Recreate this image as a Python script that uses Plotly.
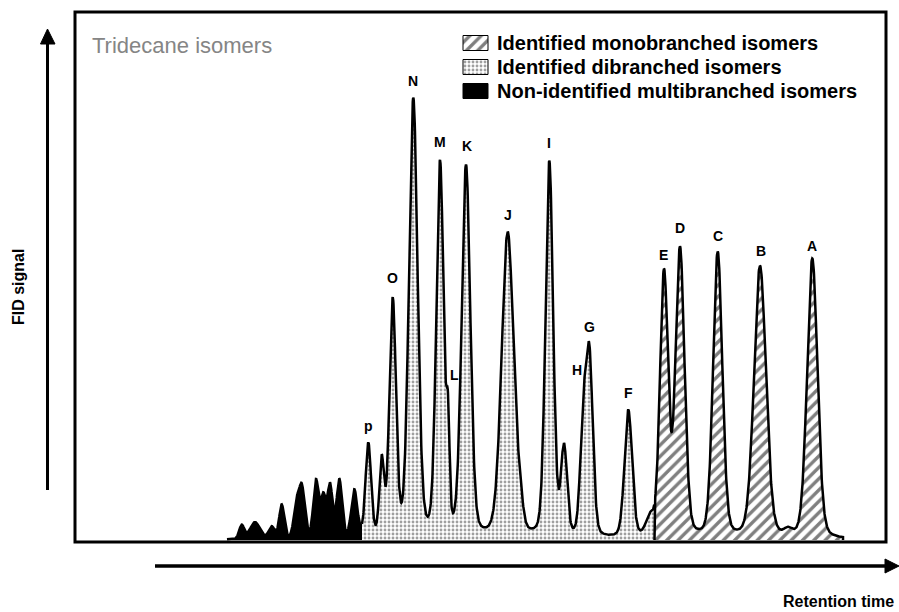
import numpy as np
import plotly.graph_objects as go

# ---- peak table: retention position (a.u.), FID response (a.u.), peak sigma (a.u.) ----
multi_rt     = [166.7, 180.0, 196.7, 206.7, 221.0, 226.7, 241.0, 248.3, 255.0, 264.3, 279.3]
multi_height = [14, 17, 12, 34, 30, 52, 57, 40, 52, 58, 47]
multi_sigma  = [2.5, 5.0, 3.0, 2.5, 2.5, 3.0, 2.7, 2.5, 2.5, 2.7, 3.0]

di_labels = ["p", "", "O", "N", "M", "L", "K", "J", "", "I", "", "H", "G", "F", ""]
di_rt     = [293.3, 306.7, 317.7, 338.3, 365.0, 373.0, 391.0, 432.7, 445.0,
             474.3, 489.0, 508.0, 514.3, 553.3, 575.0]
di_height = [93, 75, 235, 437, 372, 92, 370, 305, 20, 375, 87, 100, 180, 127, 18]
di_sigma  = [2.8, 2.3, 3.3, 4.3, 3.7, 1.6, 4.3, 6.0, 3.0, 3.8, 3.0, 3.0, 3.5, 3.8, 4.0]

mono_labels = ["E", "D", "C", "B", "", "A"]
mono_rt     = [589.0, 605.0, 642.7, 685.0, 713.0, 737.3]
mono_height = [263, 287, 285, 272, 6, 280]
mono_sigma  = [4.0, 4.5, 4.6, 6.0, 4.0, 5.2]

# elution windows of the three isomer groups
multi_window = (152.0, 287.0)
di_window    = (287.0, 579.3)
mono_window  = (579.3, 768.0)

legend_names = ["Identified monobranched isomers",
                "Identified dibranched isomers",
                "Non-identified multibranched isomers"]

# ---- build the chromatogram from the peak table (pseudo-Voigt peaks) ----
ETA = 0.2
t = np.arange(145.0, 775.0, 0.25)
signal = np.zeros_like(t)
for rts, hs, ss in [(multi_rt, multi_height, multi_sigma),
                    (di_rt, di_height, di_sigma),
                    (mono_rt, mono_height, mono_sigma)]:
    for rt, h, s in zip(rts, hs, ss):
        g = np.exp(-((t - rt) ** 2) / (2 * s * s))
        gam = s * 1.1774
        lor = 1.0 / (1.0 + ((t - rt) / gam) ** 2)
        signal += h * ((1 - ETA) * g + ETA * lor)


def window(a, b):
    m = (t >= a - 1e-9) & (t <= b + 1e-9)
    return t[m], signal[m]


FONT = "Liberation Sans, Arial, sans-serif"
LINE_W = 2.5

dot_pattern = dict(shape=".", fgcolor="#404040", bgcolor="white", size=4, solidity=0.4)
hatch_pattern = dict(shape="/", fgcolor="black", bgcolor="white", size=8, solidity=0.42)

fig = go.Figure()

xm, ym = window(*multi_window)
fig.add_trace(go.Scatter(x=xm, y=ym, mode="lines", fill="tozeroy",
                         fillcolor="black", line=dict(color="black", width=LINE_W),
                         hoverinfo="skip", showlegend=False))

xd, yd = window(*di_window)
fig.add_trace(go.Scatter(x=xd, y=yd, mode="lines", fill="tozeroy",
                         fillcolor="white", fillpattern=dot_pattern,
                         line=dict(color="black", width=LINE_W),
                         hoverinfo="skip", showlegend=False))

xo, yo = window(*mono_window)
fig.add_trace(go.Scatter(x=np.r_[xo[0], xo, xo[-1]], y=np.r_[0, yo, 0], mode="lines",
                         fill="toself", fillcolor="white", fillpattern=hatch_pattern,
                         line=dict(color="black", width=LINE_W),
                         hoverinfo="skip", showlegend=False))

# ---- plot-area geometry in pixels, used for the decorations outside the data ----
PL, PR, PT, PB = 75, 886, 12, 542
W, H = 899, 612


def px(v):
    return (v - PL) / (PR - PL)


def py(v):
    return (PB - v) / (PB - PT)


# ---- peak letters ----
label_shift = {"p": (0, 17), "O": (0, 19), "N": (0, 17), "M": (0, 18), "L": (6, 18),
               "K": (1, 19), "J": (0, 17), "I": (0, 18), "H": (-6, 27), "G": (0, 16),
               "F": (0, 17), "E": (-1, 14), "D": (0, 18), "C": (0, 15), "B": (1, 15),
               "A": (0, 13)}
annotations = []
for labels, rts in [(di_labels, di_rt), (mono_labels, mono_rt)]:
    for lab, rt in zip(labels, rts):
        if not lab:
            continue
        dx, dy = label_shift[lab]
        annotations.append(dict(x=rt, y=float(np.interp(rt, t, signal)), xref="x", yref="y",
                                xanchor="center", yanchor="middle",
                                text=f"<b>{lab}</b>", showarrow=False, xshift=dx, yshift=dy,
                                font=dict(family=FONT, size=14, color="black")))

# ---- legend: pattern swatches on an overlay axis + text ----
row_y = [43, 67, 91]
sw_x0, sw_x1, sw_h = 463, 488, 15
swatch_styles = [dict(fillcolor="white", fillpattern=hatch_pattern),
                 dict(fillcolor="white", fillpattern=dot_pattern),
                 dict(fillcolor="black")]
for yc, sty, name in zip(row_y, swatch_styles, legend_names):
    x0, x1 = px(sw_x0), px(sw_x1)
    y0, y1 = py(yc + sw_h / 2), py(yc - sw_h / 2)
    fig.add_trace(go.Scatter(x=[x0, x1, x1, x0, x0], y=[y0, y0, y1, y1, y0],
                             xaxis="x2", yaxis="y2", mode="lines", fill="toself",
                             line=dict(color="black", width=1), hoverinfo="skip",
                             showlegend=False, **sty))
    annotations.append(dict(x=px(495), y=py(yc), xref="paper", yref="paper",
                            xanchor="left", yanchor="middle", showarrow=False,
                            text=f"<b>{name}</b>",
                            font=dict(family=FONT, size=20, color="black")))

annotations += [
    dict(x=px(90), y=py(46), xref="paper", yref="paper", xanchor="left", yanchor="middle",
         showarrow=False, text="Tridecane isomers",
         font=dict(family=FONT, size=22, color="#858585")),
    dict(x=px(18), y=py(287), xref="paper", yref="paper", textangle=-90,
         xanchor="center", yanchor="middle",
         showarrow=False, text="<b>FID signal</b>",
         font=dict(family=FONT, size=16, color="black")),
    dict(x=px(838), y=py(601), xref="paper", yref="paper",
         xanchor="center", yanchor="middle",
         showarrow=False, text="<b>Retention time</b>",
         font=dict(family=FONT, size=16, color="black")),
]

shapes = [
    # frame around the chromatogram
    dict(type="rect", xref="paper", yref="paper", x0=0, x1=1, y0=0, y1=1,
         line=dict(color="black", width=3)),
    # signal axis arrow
    dict(type="line", xref="paper", yref="paper", x0=px(47.5), x1=px(47.5),
         y0=py(490), y1=py(42), line=dict(color="black", width=3)),
    dict(type="path", xref="paper", yref="paper",
         path=f"M{px(40.5)},{py(44)} L{px(47.5)},{py(29)} L{px(55)},{py(44)} Z",
         fillcolor="black", line=dict(color="black", width=1)),
    # retention time arrow
    dict(type="line", xref="paper", yref="paper", x0=px(155), x1=px(886),
         y0=py(566), y1=py(566), line=dict(color="black", width=3.5)),
    dict(type="path", xref="paper", yref="paper",
         path=f"M{px(885)},{py(559)} L{px(899)},{py(566)} L{px(885)},{py(573)} Z",
         fillcolor="black", line=dict(color="black", width=1)),
]

fig.update_layout(
    width=W, height=H,
    margin=dict(l=PL, r=W - PR, t=PT, b=H - PB),
    paper_bgcolor="white", plot_bgcolor="white",
    showlegend=False,
    xaxis=dict(range=[0, PR - PL], visible=False, fixedrange=True),
    yaxis=dict(range=[-2, PB - PT - 2], visible=False, fixedrange=True),
    xaxis2=dict(range=[0, 1], overlaying="x", visible=False, fixedrange=True),
    yaxis2=dict(range=[0, 1], overlaying="y", visible=False, fixedrange=True),
    annotations=annotations,
    shapes=shapes,
)

fig.write_html("out.html")
